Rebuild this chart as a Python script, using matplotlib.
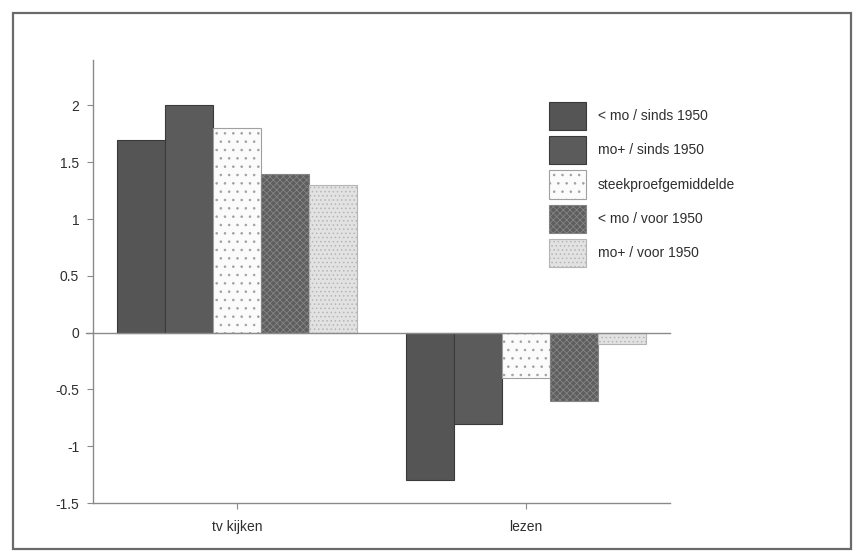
import matplotlib
matplotlib.use("Agg")
import matplotlib.pyplot as plt
from matplotlib.patches import Rectangle
import numpy as np

plt.rcParams['font.family'] = ['Liberation Sans', 'DejaVu Sans']
plt.rcParams['hatch.linewidth'] = 0.6

categories = ["tv kijken", "lezen"]
series_names = ["< mo / sinds 1950", "mo+ / sinds 1950", "steekproefgemiddelde",
                "< mo / voor 1950", "mo+ / voor 1950"]
values = [
    [1.7, -1.3],
    [2.0, -0.8],
    [1.8, -0.4],
    [1.4, -0.6],
    [1.3, -0.1],
]
yticks = [-1.5, -1, -0.5, 0, 0.5, 1, 1.5, 2]
ytick_labels = ["-1.5", "-1", "-0.5", "0", "0.5", "1", "1.5", "2"]

styles = [
    dict(facecolor="#555555", hatch=None, edgecolor="#3a3a3a"),
    dict(facecolor="#5b5b5b", hatch=None, edgecolor="#3a3a3a"),
    dict(facecolor="#fbfbfb", hatch="..", edgecolor="#a0a0a0"),
    dict(facecolor="#5e5e5e", hatch="xxxxx", edgecolor="#858585"),
    dict(facecolor="#e2e2e2", hatch="....", edgecolor="#b5b5b5"),
]

fig = plt.figure(figsize=(8.55, 5.51), dpi=100)
fig.patch.set_facecolor("white")
fig.add_artist(Rectangle((0.015, 0.004), 0.98, 0.972, transform=fig.transFigure,
                         fill=False, edgecolor="#6a6a6a", linewidth=1.6))

ax = fig.add_axes([0.1088, 0.0871, 0.6748, 0.8039])
x = np.arange(len(categories))
w = 1 / 6
for i, (name, vals, st) in enumerate(zip(series_names, values, styles)):
    ax.bar(x + (i - 2) * w, vals, width=w, label=name, facecolor=st["facecolor"],
           hatch=st["hatch"], edgecolor=st["edgecolor"], linewidth=0.8)

ax.axhline(0, color="#8a8a8a", linewidth=1.0, xmin=-0.012, clip_on=False)
ax.set_xlim(-0.5, 1.5)
ax.set_ylim(-1.5, 2.4)
ax.set_yticks(yticks)
ax.set_yticklabels(ytick_labels)
ax.set_xticks(x)
ax.set_xticklabels(categories)
for s in ["top", "right"]:
    ax.spines[s].set_visible(False)
for s in ["left", "bottom"]:
    ax.spines[s].set_color("#8a8a8a")
    ax.spines[s].set_linewidth(1.0)
ax.tick_params(axis="both", colors="#8a8a8a", labelcolor="#2e2e2e", labelsize=10,
               length=4, width=0.8)
ax.tick_params(axis="x", pad=8)
ax.tick_params(axis="y", pad=6)

leg = ax.legend(loc="upper left", bbox_to_anchor=(549 / 855, 1 - 102 / 551),
                bbox_transform=fig.transFigure, frameon=False, fontsize=10,
                handlelength=2.66, handleheight=2.75, labelspacing=0.43,
                handletextpad=0.85, borderpad=0, borderaxespad=0)
for t in leg.get_texts():
    t.set_color("#2e2e2e")

fig.savefig("out.png", dpi=100, facecolor="white")
